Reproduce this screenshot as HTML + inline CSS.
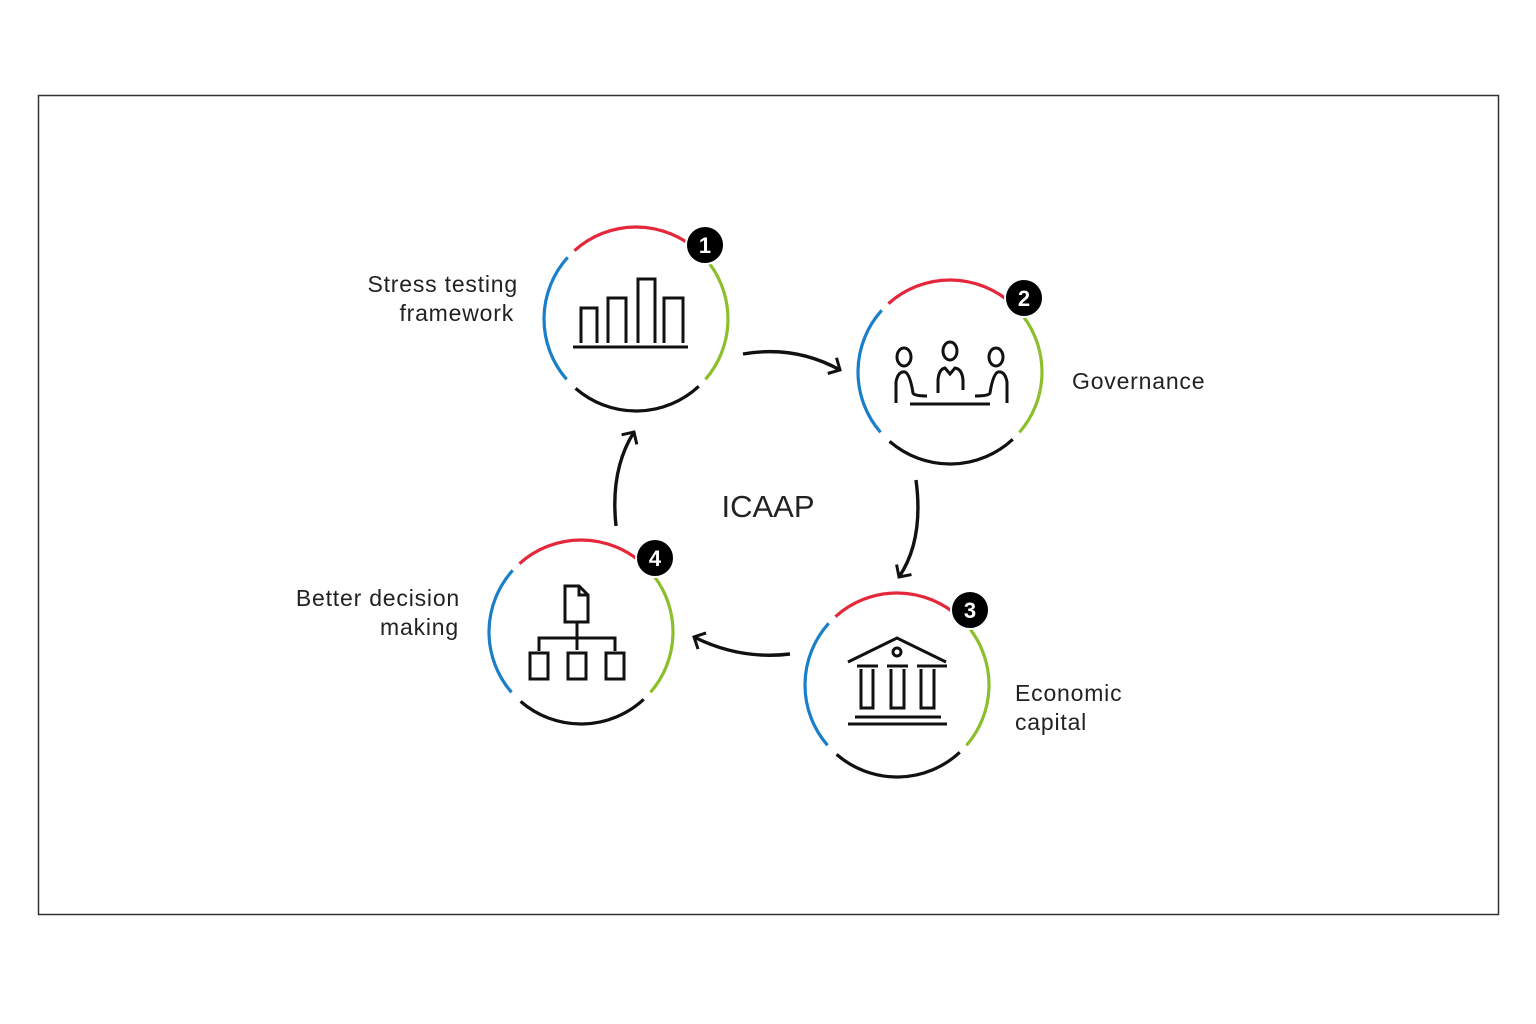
<!DOCTYPE html>
<html><head><meta charset="utf-8"><style>
html,body{margin:0;padding:0;background:#fff;}
svg{display:block;}
text{font-family:"Liberation Sans",sans-serif;fill:#222;}
</style></head><body>
<svg width="1536" height="1024" viewBox="0 0 1536 1024" xmlns="http://www.w3.org/2000/svg">
<defs>
<g id="ring" fill="none" stroke-width="3.2">
  <circle r="92" stroke="#e4283c" stroke-dasharray="136.5 500" transform="rotate(-132)"/>
  <circle r="92" stroke="#8bbf2c" stroke-dasharray="125.2 500" transform="rotate(-37)"/>
  <circle r="92" stroke="#111" stroke-dasharray="134.9 500" transform="rotate(47)"/>
  <circle r="92" stroke="#1a7fc9" stroke-dasharray="133.3 500" transform="rotate(139)"/>
</g>
<marker id="ah" viewBox="0 0 12 20" refX="10" refY="10" markerWidth="12" markerHeight="20" markerUnits="userSpaceOnUse" orient="auto">
<path d="M1,1 L10,10 L1,19" fill="none" stroke="#111" stroke-width="3"/>
</marker>
</defs>
<rect x="38.5" y="95.5" width="1460" height="819" fill="none" stroke="#333" stroke-width="1.5"/>

<use href="#ring" x="636" y="319"/>
<use href="#ring" x="950" y="372"/>
<use href="#ring" x="897" y="685"/>
<use href="#ring" x="581" y="632"/>

<g font-family="Liberation Sans" font-weight="bold" font-size="22" text-anchor="middle">
<circle cx="705" cy="245" r="19" fill="#000" stroke="#fff" stroke-width="2"/><text x="705" y="253" style="fill:#fff;font-weight:bold">1</text>
<circle cx="1024" cy="298" r="19" fill="#000" stroke="#fff" stroke-width="2"/><text x="1024" y="306" style="fill:#fff;font-weight:bold">2</text>
<circle cx="970" cy="610" r="19" fill="#000" stroke="#fff" stroke-width="2"/><text x="970" y="618" style="fill:#fff;font-weight:bold">3</text>
<circle cx="655" cy="558" r="19" fill="#000" stroke="#fff" stroke-width="2"/><text x="655" y="566" style="fill:#fff;font-weight:bold">4</text>
</g>

<g fill="none" stroke="#111" stroke-width="3">
  <path d="M581,343 V308 H597 V343 M608,343 V298 H626 V343 M638,343 V279 H655 V343 M664,343 V298 H683 V343"/>
  <path d="M573,347 H688"/>
  <ellipse cx="904" cy="357" rx="7" ry="9"/>
  <ellipse cx="950" cy="351" rx="7" ry="9"/>
  <ellipse cx="996" cy="357" rx="7" ry="9"/>
  <path d="M896,403 V382 Q898,371 905,372 Q910,374 913,393 Q914,396 927,396"/>
  <path d="M1007,403 V382 Q1005,371 998,372 Q993,374 990,393 Q989,396 975,396"/>
  <path d="M938,393 V380 Q939,369 945,368 L950,374 L955,368 Q962,369 963,380 V390"/>
  <path d="M910,404 H990"/>
  <path d="M848,662 L897,638 L946,662"/>
  <circle cx="897" cy="652" r="4"/>
  <path d="M857,666 H878 M887,666 H908 M917,666 H947"/>
  <path d="M861,669 V708 H873 V669 M891,669 V708 H904 V669 M921,669 V708 H934 V669"/>
  <path d="M855,717 H941 M848,724 H947"/>
  <path d="M565,622 V586 H579 L588,595 V622 Z M579,586 V595 H588"/>
  <path d="M577,622 V650 M539,651 V638 H615 V651"/>
  <rect x="530" y="653" width="18" height="26"/>
  <rect x="568" y="653" width="18" height="26"/>
  <rect x="606" y="653" width="18" height="26"/>
</g>

<g fill="none" stroke="#111" stroke-width="3.4" marker-end="url(#ah)">
  <path d="M743,354 Q795,345 840,370"/>
  <path d="M916,480 Q924,540 899,577"/>
  <path d="M790,654 Q740,660 694,637"/>
  <path d="M616,526 Q610,470 634,432"/>
</g>

<g font-size="23" letter-spacing="0.8">
<text x="518" y="292" text-anchor="end">Stress testing</text>
<text x="514" y="321" text-anchor="end">framework</text>
<text x="1072" y="389">Governance</text>
<text x="1015" y="701">Economic</text>
<text x="1015" y="730">capital</text>
<text x="460" y="606" text-anchor="end">Better decision</text>
<text x="459" y="635" text-anchor="end">making</text>
</g>
<text x="768" y="517" font-size="31" text-anchor="middle">ICAAP</text>
</svg>
</body></html>
